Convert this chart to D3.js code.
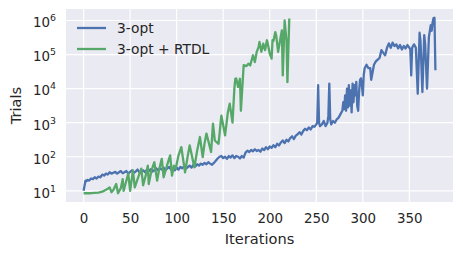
<!DOCTYPE html>
<html>
<head>
<meta charset="utf-8">
<script src="https://cdn.jsdelivr.net/npm/d3@7"></script>
<style>
    body { margin: 0; background: #fff; }
    svg { display: block; font-family: "DejaVu Sans", sans-serif; }
    .tick text { fill: #262626; }
</style>
</head>
<body>
<svg width="463" height="256"></svg>
<script>
"use strict";

// [iteration, trials]
const threeOpt = [
    [0, 10], [1, 14], [2, 20], [3, 19], [4, 21], [6, 20], [8, 23], [10, 22], [12, 25], [14, 23],
    [16, 26], [18, 25], [20, 30], [22, 28], [24, 32], [26, 30], [28, 35], [30, 32], [32, 34], [34, 36],
    [36, 32], [38, 35], [40, 38], [42, 33], [44, 35], [46, 38], [48, 32], [50, 36], [52, 40], [54, 34],
    [56, 37], [58, 42], [60, 35], [62, 38], [64, 40], [66, 35], [68, 42], [70, 38], [72, 43], [74, 37],
    [76, 40], [78, 46], [80, 40], [82, 45], [84, 42], [86, 48], [88, 40], [90, 46], [92, 50], [94, 42],
    [96, 46], [98, 40], [100, 48], [102, 42], [104, 50], [106, 46], [108, 52], [110, 45], [112, 50], [114, 55],
    [116, 48], [118, 58], [120, 52], [122, 60], [124, 55], [126, 63], [128, 58], [130, 66], [132, 60], [134, 69],
    [136, 63], [138, 58], [140, 66], [142, 76], [144, 89], [146, 100], [148, 105], [150, 91], [152, 100], [154, 87],
    [156, 105], [158, 95], [160, 110], [162, 91], [164, 105], [166, 100], [168, 89], [170, 105], [172, 95], [174, 132],
    [176, 151], [178, 138], [180, 158], [182, 145], [184, 166], [186, 148], [188, 158], [190, 141], [192, 174], [194, 158],
    [196, 191], [198, 166], [200, 200], [202, 182], [204, 219], [206, 191], [208, 240], [210, 214], [212, 263], [214, 302],
    [216, 251], [218, 316], [220, 282], [222, 355], [224, 398], [226, 331], [228, 417], [230, 457], [232, 525], [234, 447],
    [236, 575], [238, 661], [240, 603], [242, 724], [244, 631], [246, 794], [248, 759], [250, 891], [251, 1000], [252, 12600],
    [253, 1000], [254, 794], [256, 891], [258, 1120], [260, 794], [262, 1000], [263, 1585], [264, 14100], [265, 1260], [266, 891],
    [268, 1120], [270, 1000], [272, 1260], [274, 1410], [276, 1780], [278, 2240], [279, 3980], [280, 2510], [281, 6310], [282, 2240],
    [283, 10000], [284, 2820], [285, 12600], [286, 3160], [287, 8910], [288, 2000], [289, 14100], [290, 3980], [291, 12600], [292, 6310],
    [293, 15800], [294, 3160], [295, 2240], [296, 7940], [297, 17800], [298, 20000], [299, 12600], [300, 6310], [301, 25100], [302, 39800],
    [304, 50100], [306, 39800], [308, 39800], [309, 18200], [311, 35500], [312, 50100], [314, 63100], [316, 70800], [318, 79400], [320, 134900],
    [322, 112200], [324, 95500], [326, 158500], [328, 213800], [330, 158500], [332, 223900], [334, 177800], [336, 199500], [338, 151400], [340, 190500],
    [342, 141300], [344, 177800], [346, 151400], [348, 190500], [350, 158500], [351, 141300], [352, 24500], [353, 158500], [355, 199500], [357, 158500],
    [359, 7080], [361, 436500], [362, 251200], [364, 7940], [366, 371500], [367, 199500], [369, 10000], [371, 331100], [373, 724400], [374, 501200],
    [375, 891300], [376, 1174900], [377, 1202300], [378, 34700]
];

const threeOptRtdl = [
    [0, 8.5], [4, 8.5], [8, 8.5], [12, 8.7], [16, 8.9], [20, 9.5], [22, 10], [24, 10.7], [26, 11.5], [28, 12.6],
    [30, 9.1], [32, 10.5], [35, 15.8], [37, 8.5], [40, 12], [42, 22], [43, 10], [46, 20], [48, 32], [50, 10],
    [51, 16], [53, 40], [55, 12.6], [58, 22], [62, 45], [64, 14.5], [67, 30], [69, 55], [70, 15.8], [73, 40],
    [76, 69], [79, 20], [81, 40], [84, 87], [86, 25], [90, 60], [93, 110], [95, 28], [97, 55], [99, 45],
    [102, 110], [105, 191], [109, 35], [112, 110], [114, 214], [119, 49], [122, 150], [125, 380], [128, 98], [130, 250],
    [132, 479], [137, 138], [139, 933], [141, 300], [145, 240], [148, 1620], [152, 427], [155, 2000], [157, 3630], [160, 1000],
    [162, 10000], [163, 19500], [164, 20000], [166, 11200], [168, 19500], [169, 2240], [172, 49000], [175, 45700], [177, 53700], [179, 47900],
    [180, 60300], [182, 95500], [184, 60300], [186, 120200], [188, 166000], [189, 234400], [191, 120200], [193, 208900], [195, 134900], [197, 263000],
    [198, 199500], [200, 107200], [202, 75900], [203, 263000], [204, 251200], [206, 457100], [207, 354800], [209, 120200], [211, 251200], [213, 512900],
    [214, 24500], [216, 1000000], [218, 251200], [219, 15500], [221, 1150000]
];

const seriesNames = ["3-opt", "3-opt + RTDL"];
const seriesColors = ["#4c72b0", "#55a868"];
const xTicks = [0, 50, 100, 150, 200, 250, 300, 350];
const yTickExps = [1, 2, 3, 4, 5, 6];

const svg = d3.select("svg"),
    margin = {top: 9, right: 10, bottom: 54, left: 66},
    width = 463 - margin.left - margin.right,
    height = 256 - margin.top - margin.bottom;

const allSeries = [threeOpt, threeOptRtdl];
const allPoints = allSeries.flat();

// matplotlib style 5% margins (in log space for y)
const xExt = d3.extent(allPoints, d => d[0]);
const xPad = (xExt[1] - xExt[0]) * 0.05;
const yExt = d3.extent(allPoints, d => Math.log10(d[1]));
const yPad = (yExt[1] - yExt[0]) * 0.05;

const x = d3.scaleLinear()
    .domain([xExt[0] - xPad, xExt[1] + xPad])
    .range([0, width]);
const y = d3.scaleLog()
    .domain([Math.pow(10, yExt[0] - yPad), Math.pow(10, yExt[1] + yPad)])
    .range([height, 0]);

const g = svg.append("g").attr("transform", `translate(${margin.left},${margin.top})`);

g.append("rect")
    .attr("width", width)
    .attr("height", height)
    .attr("fill", "#eaeaf2");

// grid
g.append("g").selectAll("line")
    .data(xTicks)
    .join("line")
    .attr("x1", d => x(d)).attr("x2", d => x(d))
    .attr("y1", 0).attr("y2", height)
    .attr("stroke", "#fff").attr("stroke-width", 1.2);
g.append("g").selectAll("line")
    .data(yTickExps)
    .join("line")
    .attr("y1", d => y(Math.pow(10, d))).attr("y2", d => y(Math.pow(10, d)))
    .attr("x1", 0).attr("x2", width)
    .attr("stroke", "#fff").attr("stroke-width", 1.2);

// x axis
const xAxis = g.append("g")
    .attr("transform", `translate(0,${height})`)
    .call(d3.axisBottom(x).tickValues(xTicks).tickSize(0).tickPadding(11.5));
xAxis.select(".domain").remove();
xAxis.selectAll("text").attr("font-size", 13.4).attr("font-family", "DejaVu Sans").attr("fill", "#262626");

// y axis with 10^n labels
const yAxis = g.append("g")
    .call(d3.axisLeft(y).tickValues(yTickExps.map(e => Math.pow(10, e))).tickSize(0).tickFormat(""));
yAxis.select(".domain").remove();
yAxis.selectAll(".tick").each(function (d) {
    const t = d3.select(this).select("text")
        .attr("x", -10)
        .attr("dy", "6.3")
        .attr("text-anchor", "end")
        .attr("font-size", 13.4)
        .attr("font-family", "DejaVu Sans")
        .attr("fill", "#262626");
    t.append("tspan").text("10");
    t.append("tspan").attr("dy", -6).attr("font-size", 9.4).text(Math.round(Math.log10(d)));
});

// lines
const line = d3.line()
    .x(d => x(d[0]))
    .y(d => y(d[1]));

g.append("g").selectAll("path")
    .data(allSeries)
    .join("path")
    .attr("d", line)
    .attr("fill", "none")
    .attr("stroke", (d, i) => seriesColors[i])
    .attr("stroke-width", 2.3)
    .attr("stroke-linejoin", "round");

// labels
svg.append("text")
    .attr("x", margin.left + width / 2)
    .attr("y", 243.5)
    .attr("text-anchor", "middle")
    .attr("font-size", 14.6)
    .attr("fill", "#262626")
    .text("Iterations");
svg.append("text")
    .attr("transform", `translate(21,${margin.top + height / 2}) rotate(-90)`)
    .attr("text-anchor", "middle")
    .attr("font-size", 14.6)
    .attr("fill", "#262626")
    .text("Trials");

// legend
const legend = svg.append("g").selectAll("g")
    .data(seriesNames)
    .join("g")
    .attr("transform", (d, i) => `translate(77,${28 + i * 21})`);
legend.append("line")
    .attr("x1", 0).attr("x2", 29)
    .attr("stroke", (d, i) => seriesColors[i])
    .attr("stroke-width", 2.3);
legend.append("text")
    .attr("x", 40)
    .attr("dy", 4.9)
    .attr("font-size", 13.8)
    .attr("fill", "#262626")
    .text(d => d);
</script>
</body>
</html>
